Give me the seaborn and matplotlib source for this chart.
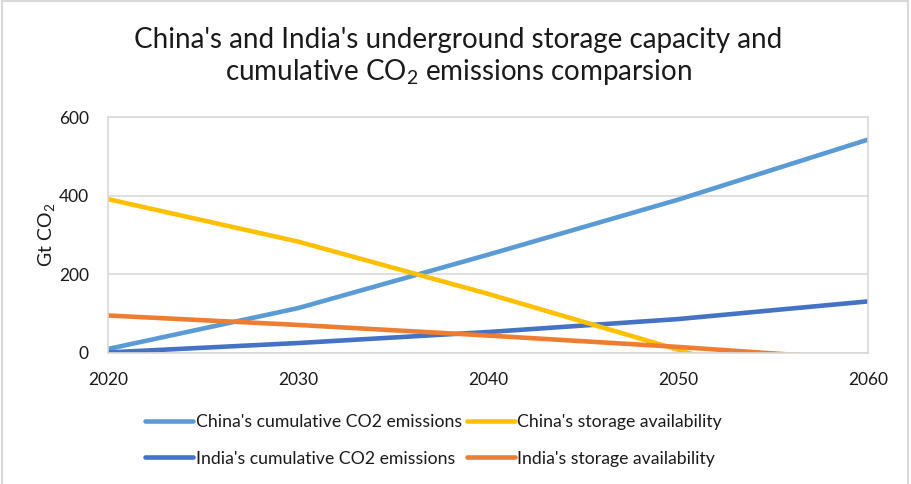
import matplotlib
matplotlib.use("Agg")
import matplotlib.pyplot as plt
from matplotlib.patches import Rectangle
import seaborn as sns
import pandas as pd

years = [2020, 2030, 2040, 2050, 2060]
china_cumulative = [10, 114, 250, 390, 543]
china_storage = [391, 283, 150, 8, -140]
india_cumulative = [1, 25, 53, 86, 131]
india_storage = [95, 71, 44, 15, -18]

series_names = [
    "China's cumulative CO2 emissions",
    "India's cumulative CO2 emissions",
    "China's storage availability",
    "India's storage availability",
]
series_values = [china_cumulative, india_cumulative, china_storage, india_storage]
series_colors = ["#5B9BD5", "#4472C4", "#FFC000", "#ED7D31"]

frames = [pd.DataFrame({"year": years, "value": v, "series": n})
          for n, v in zip(series_names, series_values)]
data = pd.concat(frames, ignore_index=True)

sns.set_theme(style="white")
plt.rcParams["font.family"] = ["Lato", "DejaVu Sans"]
plt.rcParams["mathtext.fontset"] = "custom"
plt.rcParams["mathtext.rm"] = "Lato"
plt.rcParams["mathtext.it"] = "Lato"

fig = plt.figure(figsize=(9.11, 4.84), dpi=100)
ax = fig.add_axes([0.119, 0.271, 0.834, 0.487])

sns.lineplot(data=data, x="year", y="value", hue="series",
             hue_order=series_names, palette=series_colors,
             linewidth=3.3, ax=ax, legend=False)

ax.set_xlim(2020, 2060)
ax.set_ylim(0, 600)
ax.set_xticks(years)
ax.set_yticks([0, 200, 400, 600])
ax.tick_params(axis="both", length=0, labelsize=12.5, colors="#1a1a1a")
ax.tick_params(axis="x", pad=14)
ax.tick_params(axis="y", pad=14)
ax.grid(axis="y", color="#d9d9d9", linewidth=1.2)
ax.set_axisbelow(True)
for s in ax.spines.values():
    s.set_color("#d9d9d9")
    s.set_linewidth(1.2)
ax.set_xlabel("")
ax.set_ylabel(r"Gt CO$_\mathregular{2}$", fontsize=14, color="#1a1a1a")
ax.yaxis.set_label_coords(-0.068, 0.5)

fig.text(0.503, 0.882,
         "China's and India's underground storage capacity and\n"
         r"cumulative CO$_\mathregular{2}$ emissions comparsion",
         ha="center", va="center", fontsize=20, color="#1a1a1a",
         linespacing=1.2)

handles = [plt.Line2D([], [], color=c, linewidth=3.3) for c in series_colors]
fig.legend(handles, series_names, loc="center", ncol=2,
           bbox_to_anchor=(0.476, 0.09), frameon=False, fontsize=12.7,
           handlelength=2.7, handletextpad=0.15, columnspacing=0.3,
           labelspacing=1.15, labelcolor="#1a1a1a")

fig.patches.append(Rectangle((0.002, -0.01), 0.995, 1.008,
                             transform=fig.transFigure, fill=False,
                             edgecolor="#d9d9d9", linewidth=1.5))

fig.savefig("out.png", dpi=100, facecolor="white")
